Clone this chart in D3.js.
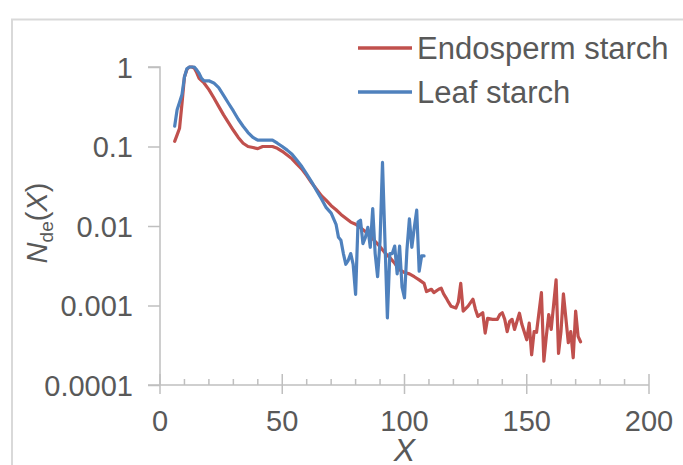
<!DOCTYPE html>
<html>
<head>
<meta charset="utf-8">
<script src="https://cdn.jsdelivr.net/npm/d3@7/dist/d3.min.js"></script>
<style>
  html, body { margin: 0; padding: 0; background: #fff; }
  svg { display: block; font-family: "Liberation Sans", Arial, sans-serif; }
</style>
</head>
<body>
<svg id="chart" width="683" height="465"></svg>
<script>
// ---- data ----
const seriesNames = ["Endosperm starch", "Leaf starch"];
const seriesColors = ["#C0504D", "#4F81BD"];
const xTicks = [0, 50, 100, 150, 200];
const yTicks = [1, 0.1, 0.01, 0.001, 0.0001];
const yTickLabels = ["1", "0.1", "0.01", "0.001", "0.0001"];

const endospermX = [6,7,8,9,10,11,12,13,14,15,16,18,20,22,24,26,28,30,32,34,36,38,40,42,44,46,48,50,52,54,56,58,60,62,64,66,68,70,72,74,76,78,80,82,84,86,88,90,92,94,96,98,100,102,104,106,108,109,111,112,114,115,116,117,118,119,121,122,123,124,126,128,129,130,132,133,134,136,138,139,140,141,142,143,144,145,147,148,150,151,152,153,154,156,157,158,159,160,162,163,164,165,167,168,169,170,171,172];
const endospermY = [0.116,0.14,0.17,0.35,0.75,0.93,1.0,1.0,0.97,0.85,0.72,0.63,0.52,0.41,0.32,0.25,0.2,0.16,0.13,0.11,0.1,0.097,0.094,0.1,0.1,0.1,0.095,0.087,0.078,0.07,0.06,0.052,0.043,0.035,0.029,0.024,0.021,0.018,0.016,0.014,0.0125,0.0112,0.0105,0.0095,0.0085,0.0075,0.0064,0.0055,0.0046,0.004,0.0034,0.0028,0.0026,0.0025,0.0023,0.0021,0.0019,0.0015,0.0016,0.00145,0.0016,0.00165,0.0014,0.00125,0.0011,0.00098,0.00093,0.0011,0.0019,0.00085,0.00098,0.0012,0.0009,0.00073,0.00081,0.00045,0.00069,0.00067,0.00067,0.00077,0.00081,0.00067,0.00047,0.00063,0.00067,0.0005,0.0008,0.00058,0.00037,0.0006,0.00024,0.00047,0.00046,0.00145,0.0002,0.00041,0.00077,0.0005,0.0021,0.00025,0.00047,0.0014,0.00034,0.00047,0.00022,0.00085,0.00041,0.00035];

const leafX = [6,7,8,9,10,11,12,13,14,15,16,17,18,20,22,24,26,28,30,32,34,36,38,40,42,44,46,48,50,52,54,56,58,60,62,64,66,68,70,72,73,74,75,76,77,78,79,80,81,82,83,84,85,86,87,88,89,90,91,93,94,95,96,97,98,99,100,101,102,103,104,105,106,107,108];
const leafY = [0.18,0.29,0.36,0.45,0.75,0.95,1.0,1.0,1.0,0.92,0.83,0.72,0.67,0.67,0.63,0.55,0.44,0.35,0.28,0.22,0.18,0.15,0.13,0.12,0.12,0.12,0.12,0.11,0.1,0.09,0.08,0.067,0.056,0.045,0.036,0.028,0.022,0.017,0.0145,0.0105,0.0072,0.0066,0.0045,0.0033,0.0037,0.0045,0.0033,0.00138,0.0112,0.0118,0.006,0.0072,0.0096,0.0054,0.0165,0.0045,0.0023,0.0065,0.063,0.0007,0.0045,0.0045,0.0056,0.0025,0.0056,0.0017,0.00125,0.005,0.0123,0.0054,0.0095,0.0158,0.0027,0.0042,0.0042];

// ---- layout ----
const svg = d3.select("#chart");
const textColor = "#595959";
const axisColor = "#BFBFBF";

// outer frame
svg.append("path")
  .attr("d", "M12,470 L12,19.5 L690,19.5")
  .attr("fill", "none").attr("stroke", "#D9D9D9").attr("stroke-width", 2);

const x = d3.scaleLinear().domain([0, 200]).range([160, 649]);
const y = d3.scaleLog().domain([1e-4, 1]).range([385, 67]);

// y axis
const yAxis = d3.axisLeft(y).tickValues(yTicks).tickSize(12).tickPadding(15)
  .tickFormat(d => yTickLabels[yTicks.indexOf(d)]);
const gy = svg.append("g").attr("transform", `translate(${x(0)},0)`).call(yAxis);
gy.select(".domain").attr("stroke", axisColor).attr("stroke-width", 1.5).attr("d", `M-12,${y(1)}H0V${y(1e-4)}`);
gy.selectAll(".tick line").attr("stroke", axisColor).attr("stroke-width", 1.5);
gy.selectAll(".tick text").attr("fill", textColor).style("font-size", "29px")
  .attr("dy", "0.36em");

// x axis: minor ticks (upward) + major ticks crossing
const gx = svg.append("g").attr("transform", `translate(0,${y(1e-4)})`);
gx.append("line").attr("x1", x(0) - 12).attr("x2", x(200)).attr("y1", 0).attr("y2", 0)
  .attr("stroke", axisColor).attr("stroke-width", 1.5);
const minor = d3.range(0, 201, 10).filter(v => v % 50 !== 0);
gx.selectAll("line.minor").data(minor).join("line").attr("class", "minor")
  .attr("x1", d => x(d)).attr("x2", d => x(d)).attr("y1", -6).attr("y2", 0)
  .attr("stroke", axisColor).attr("stroke-width", 1.5);
gx.selectAll("line.major").data(xTicks).join("line").attr("class", "major")
  .attr("x1", d => x(d)).attr("x2", d => x(d)).attr("y1", -11).attr("y2", 9)
  .attr("stroke", axisColor).attr("stroke-width", 1.5);
gx.selectAll("text.xl").data(xTicks).join("text").attr("class", "xl")
  .attr("x", d => x(d)).attr("y", 46).attr("text-anchor", "middle")
  .attr("fill", textColor).style("font-size", "29px").text(d => d);

// axis titles
svg.append("text").attr("x", x(100)).attr("y", 461).attr("text-anchor", "middle")
  .attr("fill", textColor).style("font-size", "32px").style("font-style", "italic").text("X");

const yt = svg.append("text").attr("transform", "translate(47,223) rotate(-90)")
  .attr("text-anchor", "middle").attr("fill", textColor).style("font-size", "29px");
yt.append("tspan").style("font-style", "italic").text("N");
yt.append("tspan").style("font-size", "19px").attr("dy", "6").text("de");
yt.append("tspan").attr("dy", "-6").text("(");
yt.append("tspan").style("font-style", "italic").text("X");
yt.append("tspan").text(")");

// lines
const line = d3.line().x(d => x(d[0])).y(d => y(d[1]));
const endo = endospermX.map((v, i) => [v, endospermY[i]]);
const leaf = leafX.map((v, i) => [v, leafY[i]]);
[endo, leaf].forEach((data, i) => {
  svg.append("path").datum(data).attr("d", line)
    .attr("fill", "none").attr("stroke", seriesColors[i]).attr("stroke-width", 3.2)
    .attr("stroke-linejoin", "round").attr("stroke-linecap", "round");
});

// legend
const legY = [48, 92];
seriesNames.forEach((name, i) => {
  svg.append("line").attr("x1", 358).attr("x2", 412).attr("y1", legY[i]).attr("y2", legY[i])
    .attr("stroke", seriesColors[i]).attr("stroke-width", 3.5);
  svg.append("text").attr("x", 417).attr("y", legY[i] + 11)
    .attr("fill", textColor).style("font-size", "31px").text(name);
});
</script>
</body>
</html>
